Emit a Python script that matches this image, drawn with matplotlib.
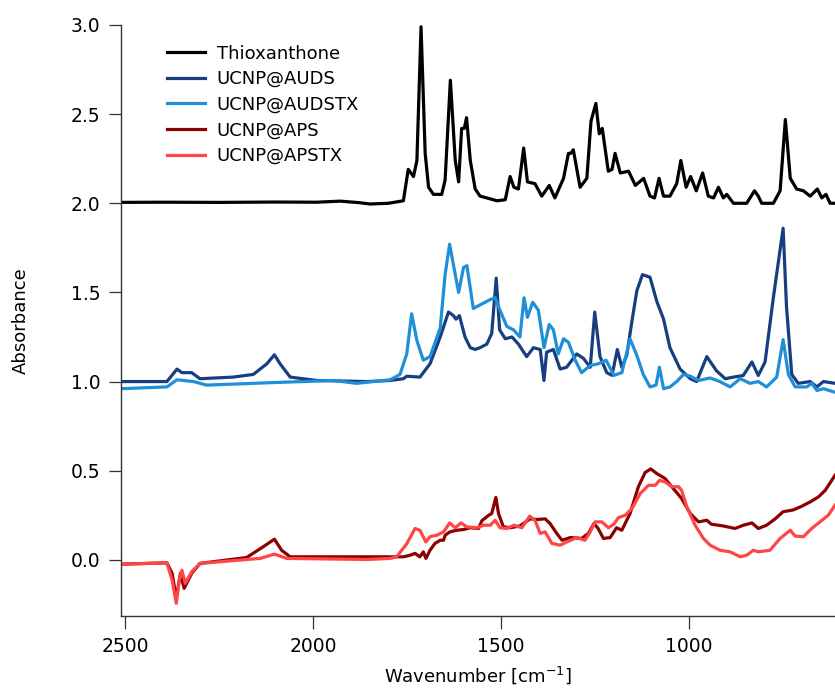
import matplotlib
matplotlib.use('Agg')
import matplotlib.pyplot as plt

# wavenumbers (cm-1) and absorbance, high -> low wavenumber
thxWn = [2510, 2400, 2250, 2100, 1990, 1928, 1880, 1848, 1800, 1760, 1747, 1733, 1724, 1713, 1702, 1693,
         1680, 1658, 1649, 1635, 1622, 1613, 1605, 1598, 1592, 1582, 1569, 1556, 1538, 1511, 1489, 1476,
         1466, 1454, 1440, 1430, 1410, 1392, 1372, 1357, 1334, 1321, 1315, 1308, 1290, 1272, 1261, 1248,
         1239, 1231, 1215, 1205, 1197, 1183, 1161, 1143, 1121, 1104, 1092, 1080, 1068, 1051, 1033, 1022,
         1008, 996, 981, 964, 949, 935, 922, 909, 900, 882, 847, 826, 816, 807, 776, 758, 744, 731, 714,
         696, 678, 659, 647, 636, 625, 612]
thxAbs = [2.005, 2.006, 2.005, 2.007, 2.006, 2.012, 2.004, 1.996, 2.0, 2.014, 2.19, 2.15, 2.24, 2.99, 2.28, 2.09,
          2.05, 2.05, 2.13, 2.69, 2.24, 2.12, 2.42, 2.42, 2.48, 2.24, 2.08, 2.04, 2.03, 2.014, 2.02, 2.15,
          2.09, 2.08, 2.31, 2.12, 2.11, 2.04, 2.10, 2.03, 2.14, 2.28, 2.28, 2.30, 2.09, 2.14, 2.46, 2.56,
          2.39, 2.42, 2.18, 2.19, 2.28, 2.17, 2.18, 2.10, 2.14, 2.04, 2.03, 2.14, 2.04, 2.04, 2.11, 2.24,
          2.09, 2.15, 2.07, 2.17, 2.04, 2.03, 2.09, 2.03, 2.05, 2.0, 2.0, 2.07, 2.04, 2.0, 2.0, 2.07, 2.47, 2.14, 2.08,
          2.07, 2.04, 2.08, 2.03, 2.05, 2.0, 2.0]

audsWn = [2510, 2389, 2362, 2349, 2323, 2301, 2213, 2159, 2123, 2103, 2088, 2061, 1990, 1857, 1795, 1760,
          1751, 1716, 1689, 1662, 1640, 1627, 1620, 1611, 1596, 1582, 1569, 1556, 1538, 1525, 1513, 1504,
          1489, 1471, 1454, 1432, 1414, 1396, 1386, 1379, 1361, 1343, 1326, 1299, 1281, 1263, 1251, 1237,
          1219, 1205, 1191, 1179, 1166, 1152, 1139, 1124, 1104, 1086, 1068, 1051, 1024, 997, 980, 953,
          927, 904, 882, 856, 833, 816, 798, 776, 750, 741, 727, 710, 678, 660, 643, 612]
audsAbs = [1.0, 1.0, 1.07, 1.05, 1.05, 1.016, 1.025, 1.04, 1.10, 1.15, 1.10, 1.025, 1.006, 1.0, 1.006, 1.016,
           1.03, 1.025, 1.10, 1.25, 1.39, 1.37, 1.35, 1.37, 1.25, 1.19, 1.18, 1.19, 1.21, 1.27, 1.58, 1.29,
           1.24, 1.25, 1.21, 1.14, 1.19, 1.18, 1.006, 1.165, 1.18, 1.07, 1.08, 1.155, 1.13, 1.08, 1.39, 1.14,
           1.05, 1.035, 1.18, 1.08, 1.146, 1.34, 1.51, 1.60, 1.585, 1.45, 1.35, 1.19, 1.07, 1.016, 1.0, 1.14,
           1.06, 1.016, 1.025, 1.034, 1.11, 1.034, 1.11, 1.47, 1.86, 1.42, 1.04, 0.99, 1.0, 0.97, 1.0, 0.99]

audstxWn = [2510, 2389, 2362, 2318, 2283, 2123, 1946, 1884, 1795, 1769, 1751, 1738, 1724, 1707, 1689, 1662,
            1649, 1637, 1622, 1613, 1600, 1591, 1574, 1556, 1529, 1516, 1503, 1485, 1467, 1450, 1439, 1430,
            1416, 1401, 1386, 1372, 1361, 1348, 1334, 1321, 1303, 1286, 1263, 1241, 1221, 1200, 1179, 1157,
            1139, 1122, 1104, 1088, 1079, 1068, 1051, 1033, 1015, 997, 975, 944, 918, 891, 864, 838,
            816, 794, 767, 750, 736, 718, 687, 674, 660, 643, 612]
audstxAbs = [0.96, 0.97, 1.01, 1.0, 0.98, 0.993, 1.006, 0.99, 1.01, 1.04, 1.155, 1.38, 1.23, 1.12, 1.14, 1.30,
             1.60, 1.77, 1.60, 1.50, 1.64, 1.65, 1.41, 1.43, 1.46, 1.47, 1.40, 1.31, 1.29, 1.25, 1.47, 1.36,
             1.445, 1.40, 1.19, 1.32, 1.29, 1.155, 1.24, 1.22, 1.12, 1.05, 1.09, 1.10, 1.12, 1.035, 1.05, 1.24,
             1.146, 1.04, 0.97, 0.98, 1.08, 0.96, 0.97, 1.0, 1.04, 1.03, 1.006, 1.02, 1.0, 0.97, 1.016, 0.99,
             1.0, 0.97, 1.025, 1.235, 1.04, 0.97, 0.97, 0.99, 0.95, 0.96, 0.94]

apsWn = [2510, 2389, 2375, 2364, 2353, 2343, 2323, 2301, 2177, 2133, 2103, 2084, 2061, 1946, 1795, 1760,
         1742, 1729, 1716, 1707, 1700, 1689, 1676, 1662, 1653, 1649, 1636, 1618, 1600, 1582, 1560, 1551,
         1533, 1525, 1514, 1507, 1494, 1476, 1450, 1423, 1405, 1383, 1370, 1352, 1338, 1316, 1286, 1268,
         1253, 1242, 1228, 1210, 1193, 1179, 1157, 1135, 1117, 1102, 1086, 1064, 1042, 1020, 997, 975,
         953, 941, 909, 878, 856, 833, 816, 794, 771, 750, 723, 701, 678, 656, 638, 612]
apsAbs = [-0.024, -0.017, -0.076, -0.216, -0.076, -0.16, -0.076, -0.02, 0.013, 0.073, 0.116, 0.054, 0.017, 0.017, 0.017, 0.017,
          0.026, 0.036, 0.017, 0.045, 0.008, 0.054, 0.092, 0.11, 0.11, 0.138, 0.157, 0.166, 0.17, 0.18, 0.176, 0.22,
          0.25, 0.26, 0.35, 0.26, 0.185, 0.18, 0.19, 0.23, 0.226, 0.23, 0.204, 0.148, 0.11, 0.125, 0.12, 0.148,
          0.204, 0.176, 0.12, 0.125, 0.18, 0.166, 0.26, 0.41, 0.49, 0.51, 0.484, 0.456, 0.40, 0.344, 0.26, 0.213,
          0.222, 0.20, 0.19, 0.176, 0.194, 0.207, 0.176, 0.194, 0.23, 0.27, 0.28, 0.30, 0.325, 0.353, 0.39, 0.474]

apstxWn = [2510, 2389, 2375, 2364, 2356, 2349, 2340, 2323, 2301, 2141, 2103, 2070, 1857, 1795, 1778, 1751,
           1729, 1716, 1700, 1689, 1671, 1653, 1637, 1622, 1607, 1591, 1564, 1547, 1529, 1516, 1503, 1485,
           1466, 1445, 1424, 1410, 1396, 1383, 1365, 1343, 1326, 1299, 1277, 1263, 1250, 1232, 1215, 1200,
           1188, 1170, 1152, 1130, 1108, 1090, 1079, 1064, 1046, 1028, 1020, 1006, 984, 962, 944, 918,
           891, 864, 847, 829, 816, 785, 758, 731, 718, 696, 674, 652, 630, 612]
apstxAbs = [-0.024, -0.017, -0.114, -0.244, -0.114, -0.058, -0.132, -0.067, -0.02, 0.008, 0.032, 0.008, 0.002, 0.008, 0.017, 0.09,
            0.176, 0.166, 0.10, 0.13, 0.138, 0.157, 0.207, 0.18, 0.207, 0.185, 0.18, 0.194, 0.194, 0.222, 0.18, 0.176,
            0.194, 0.18, 0.245, 0.222, 0.148, 0.157, 0.092, 0.082, 0.10, 0.125, 0.11, 0.157, 0.213, 0.213, 0.18, 0.20,
            0.237, 0.25, 0.288, 0.372, 0.418, 0.418, 0.446, 0.437, 0.41, 0.41, 0.39, 0.297, 0.194, 0.12, 0.082, 0.054,
            0.045, 0.017, 0.026, 0.054, 0.045, 0.054, 0.12, 0.166, 0.133, 0.13, 0.176, 0.213, 0.25, 0.306]

labels = ['Thioxanthone', 'UCNP@AUDS', 'UCNP@AUDSTX', 'UCNP@APS', 'UCNP@APSTX']
colors = ['#000000', '#173f80', '#1f8fd8', '#8c0000', '#ff4545']
xTicks = [2500, 2000, 1500, 1000]
yTicks = [0.0, 0.5, 1.0, 1.5, 2.0, 2.5, 3.0]

plt.rcParams['font.family'] = 'DejaVu Sans'

fig = plt.figure(figsize=(8.35, 6.95), dpi=100)
ax = fig.add_axes([121/835, 1 - 616/695, 714/835, 591/695])

series = [(thxWn, thxAbs), (audsWn, audsAbs), (audstxWn, audstxAbs), (apsWn, apsAbs), (apstxWn, apstxAbs)]
for (wn, ab), lab, col in zip(series, labels, colors):
    ax.plot(wn, ab, color=col, lw=2.3, label=lab, solid_joinstyle='round')

ax.set_xlim(2511, 612)
ax.set_ylim(-0.315, 3.0)
ax.set_xticks(xTicks)
ax.set_yticks(yTicks)
ax.set_yticklabels(['%.1f' % v for v in yTicks])

for s in ['top', 'right']:
    ax.spines[s].set_visible(False)
for s in ['left', 'bottom']:
    ax.spines[s].set_linewidth(1.0)
    ax.spines[s].set_color('#333333')

ax.tick_params(direction='out', length=9, width=0.9, color='#333333', labelsize=13.5, pad=6)

ax.set_xlabel('Wavenumber [cm$^{-1}$]', fontsize=13, labelpad=6)
ax.set_ylabel('Absorbance', fontsize=13, labelpad=29)

ax.legend(loc='upper left', bbox_to_anchor=(0.0644, 0.967), frameon=False, fontsize=13,
          handlelength=2.1, handletextpad=0.65, labelspacing=0.42, borderpad=0, borderaxespad=0)

plt.savefig('out.png', dpi=100)
